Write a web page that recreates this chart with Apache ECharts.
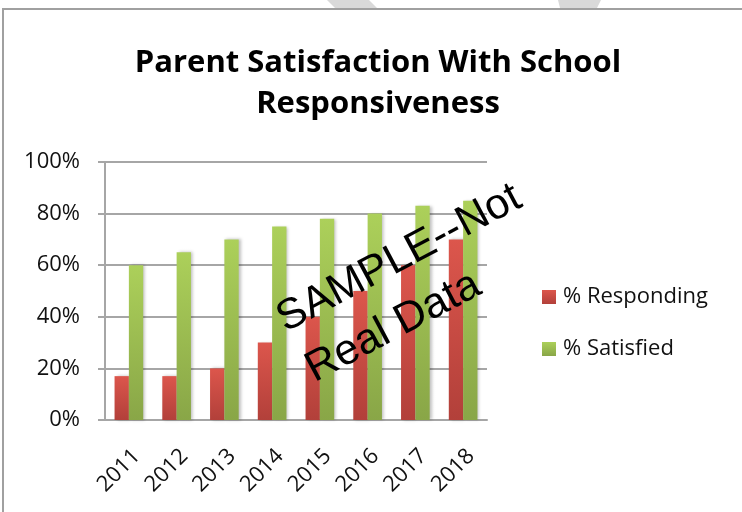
<!DOCTYPE html>
<html>
<head>
<meta charset="utf-8">
<script src="https://cdn.jsdelivr.net/npm/echarts@6/dist/echarts.min.js"></script>
<style>
  html, body { margin: 0; padding: 0; background: #fff; }
  #chart { width: 742px; height: 512px; }
</style>
</head>
<body>
<div id="chart"></div>
<script>
// chart data
var years = ['2011', '2012', '2013', '2014', '2015', '2016', '2017', '2018'];
var responding = [17, 17, 20, 30, 40, 50, 60, 70];
var satisfied = [60, 65, 70, 75, 78, 80, 83, 85];
var seriesNames = ['% Responding', '% Satisfied'];

var axisGrey = '#a6a6a6';
var font = '"Open Sans", Lato, sans-serif';
var tilt = 28 * Math.PI / 180;

function grad(top, bottom) {
    return new echarts.graphic.LinearGradient(0, 0, 0, 1, [
        { offset: 0, color: top },
        { offset: 1, color: bottom }
    ]);
}

var option = {
    animation: false,
    backgroundColor: '#fff',
    title: {
        text: 'Parent Satisfaction With School\nResponsiveness',
        left: 373,
        textAlign: 'center',
        top: 38,
        textStyle: {
            fontFamily: font,
            fontWeight: 'bold',
            fontSize: 31,
            lineHeight: 41,
            color: '#000'
        }
    },
    legend: {
        orient: 'vertical',
        left: 537,
        top: 281,
        itemWidth: 14,
        itemHeight: 14,
        itemGap: 30,
        icon: 'rect',
        textStyle: { fontFamily: font, fontSize: 22, color: '#111', padding: [0, 0, 0, 2] },
        data: seriesNames
    },
    grid: { left: 105, right: 255, top: 162, bottom: 92 },
    xAxis: {
        type: 'category',
        data: years,
        axisLine: { lineStyle: { color: axisGrey, width: 2 } },
        axisTick: { length: 7, lineStyle: { color: axisGrey, width: 2 } },
        axisLabel: {
            rotate: 45,
            margin: 25,
            align: 'right',
            verticalAlign: 'top',
            fontFamily: font,
            fontSize: 22,
            color: '#111'
        }
    },
    yAxis: {
        type: 'value',
        min: 0,
        max: 100,
        interval: 20,
        axisLine: { show: true, lineStyle: { color: axisGrey, width: 2 } },
        axisTick: { show: true, length: 7, lineStyle: { color: axisGrey, width: 2 } },
        splitLine: { lineStyle: { color: axisGrey, width: 2 } },
        axisLabel: {
            formatter: '{value}%',
            margin: 25,
            fontFamily: font,
            fontSize: 22,
            color: '#111'
        }
    },
    series: [
        {
            name: seriesNames[0],
            type: 'bar',
            data: responding,
            barGap: '0%',
            barCategoryGap: '40%',
            itemStyle: {
                color: grad('#dc564c', '#b2403a'),
                shadowColor: 'rgba(0,0,0,0.25)',
                shadowBlur: 3,
                shadowOffsetX: 2
            }
        },
        {
            name: seriesNames[1],
            type: 'bar',
            data: satisfied,
            barGap: '0%',
            barCategoryGap: '40%',
            itemStyle: {
                color: grad('#acd05a', '#89a647'),
                shadowColor: 'rgba(0,0,0,0.25)',
                shadowBlur: 3,
                shadowOffsetX: 2
            }
        }
    ],
    graphic: [
        // outer frame
        {
            type: 'rect',
            silent: true,
            shape: { x: 3, y: 9, width: 800, height: 600 },
            style: { fill: null, stroke: '#a0a0a0', lineWidth: 2 }
        },
        // faint grey stripes at the very top
        {
            type: 'polygon',
            silent: true,
            shape: { points: [[327, 0], [369, 0], [377, 8], [335, 8]] },
            style: { fill: '#d9d9d9' }
        },
        {
            type: 'polygon',
            silent: true,
            shape: { points: [[558, 0], [601, 0], [597, 8], [560, 8]] },
            style: { fill: '#d9d9d9' }
        },
        // watermark, two left-aligned lines
        {
            type: 'text',
            silent: true,
            z: 100,
            x: 280,
            y: 322,
            rotation: tilt,
            style: {
                text: 'SAMPLE--Not',
                align: 'left',
                verticalAlign: 'middle',
                fontFamily: '"Liberation Sans", Arial, sans-serif',
                fontSize: 43,
                fill: '#000'
            }
        },
        {
            type: 'text',
            silent: true,
            z: 100,
            x: 309,
            y: 372,
            rotation: tilt,
            style: {
                text: 'Real Data',
                align: 'left',
                verticalAlign: 'middle',
                fontFamily: '"Liberation Sans", Arial, sans-serif',
                fontSize: 43,
                fill: '#000'
            }
        }
    ]
};

var chart = echarts.init(document.getElementById('chart'));
chart.setOption(option);
</script>
</body>
</html>
